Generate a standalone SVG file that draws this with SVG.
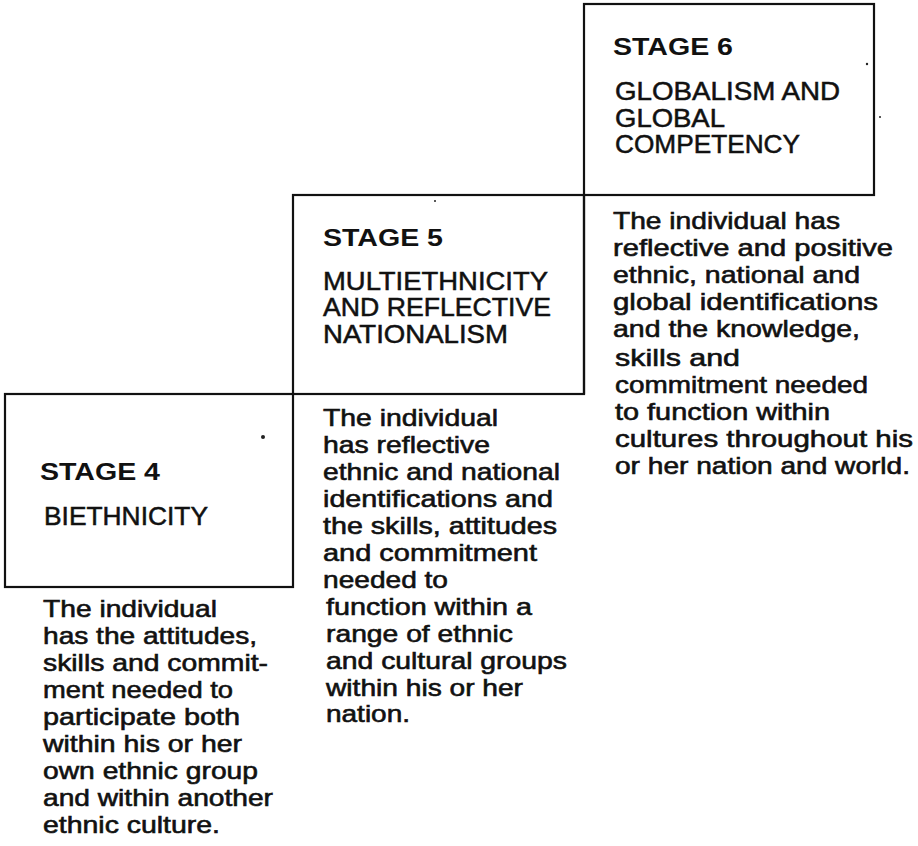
<svg xmlns="http://www.w3.org/2000/svg" width="918" height="846" viewBox="0 0 918 846">
<style>
.box{fill:none;stroke:#111;stroke-width:2.2}
.st{font-family:"Liberation Sans",Arial,sans-serif;font-weight:bold;font-size:23.5px;fill:#111}
.sub{font-family:"Liberation Sans",Arial,sans-serif;font-size:25px;fill:#111;stroke:#111;stroke-width:0.5}
.body{font-family:"Liberation Sans",Arial,sans-serif;font-size:24px;fill:#111;stroke:#111;stroke-width:0.6}
</style>
<rect width="918" height="846" fill="#fff"/>
<g id="stage4">
<rect class="box" x="5" y="394" width="288" height="193"/>
<text class="st" x="40" y="480" textLength="120" lengthAdjust="spacingAndGlyphs">STAGE  4</text>
<text class="sub" x="44" y="525" textLength="164" lengthAdjust="spacingAndGlyphs">BIETHNICITY</text>
<g class="body">
<text x="43" y="617" textLength="174" lengthAdjust="spacingAndGlyphs">The individual</text>
<text x="43" y="644" textLength="214" lengthAdjust="spacingAndGlyphs">has the attitudes,</text>
<text x="43" y="671" textLength="225" lengthAdjust="spacingAndGlyphs">skills and commit-</text>
<text x="43" y="698" textLength="190" lengthAdjust="spacingAndGlyphs">ment needed to</text>
<text x="43" y="725" textLength="197" lengthAdjust="spacingAndGlyphs">participate both</text>
<text x="43" y="752" textLength="199" lengthAdjust="spacingAndGlyphs">within his or her</text>
<text x="43" y="779" textLength="215" lengthAdjust="spacingAndGlyphs">own ethnic group</text>
<text x="43" y="806" textLength="230" lengthAdjust="spacingAndGlyphs">and within another</text>
<text x="43" y="833" textLength="177" lengthAdjust="spacingAndGlyphs">ethnic culture.</text>
</g>
</g>
<g id="stage5">
<rect class="box" x="293" y="195" width="291" height="199"/>
<text class="st" x="323" y="246" textLength="120" lengthAdjust="spacingAndGlyphs">STAGE  5</text>
<text class="sub" x="323" y="290" textLength="225" lengthAdjust="spacingAndGlyphs">MULTIETHNICITY</text>
<text class="sub" x="323" y="316" textLength="228" lengthAdjust="spacingAndGlyphs">AND REFLECTIVE</text>
<text class="sub" x="323" y="343" textLength="185" lengthAdjust="spacingAndGlyphs">NATIONALISM</text>
<g class="body">
<text x="323" y="426" textLength="175" lengthAdjust="spacingAndGlyphs">The individual</text>
<text x="323" y="453" textLength="167" lengthAdjust="spacingAndGlyphs">has reflective</text>
<text x="323" y="480" textLength="237" lengthAdjust="spacingAndGlyphs">ethnic and national</text>
<text x="323" y="507" textLength="230" lengthAdjust="spacingAndGlyphs">identifications and</text>
<text x="323" y="534" textLength="234" lengthAdjust="spacingAndGlyphs">the skills, attitudes</text>
<text x="323" y="561" textLength="214" lengthAdjust="spacingAndGlyphs">and  commitment</text>
<text x="323" y="588" textLength="125" lengthAdjust="spacingAndGlyphs">needed to</text>
<text x="326" y="615" textLength="206" lengthAdjust="spacingAndGlyphs">function within a</text>
<text x="326" y="642" textLength="187" lengthAdjust="spacingAndGlyphs">range of ethnic</text>
<text x="326" y="669" textLength="241" lengthAdjust="spacingAndGlyphs">and cultural groups</text>
<text x="326" y="696" textLength="197" lengthAdjust="spacingAndGlyphs">within his or her</text>
<text x="326" y="722" textLength="84" lengthAdjust="spacingAndGlyphs">nation.</text>
</g>
</g>
<g id="stage6">
<rect class="box" x="584" y="4" width="290" height="191"/>
<line class="box" x1="584" y1="195" x2="584" y2="394"/>
<text class="st" x="613" y="55" textLength="120" lengthAdjust="spacingAndGlyphs">STAGE  6</text>
<text class="sub" x="615" y="100" textLength="225" lengthAdjust="spacingAndGlyphs">GLOBALISM AND</text>
<text class="sub" x="615" y="127" textLength="110" lengthAdjust="spacingAndGlyphs">GLOBAL</text>
<text class="sub" x="615" y="153" textLength="185" lengthAdjust="spacingAndGlyphs">COMPETENCY</text>
<g class="body">
<text x="613" y="229" textLength="227" lengthAdjust="spacingAndGlyphs">The individual has</text>
<text x="613" y="256" textLength="280" lengthAdjust="spacingAndGlyphs">reflective and positive</text>
<text x="613" y="283" textLength="247" lengthAdjust="spacingAndGlyphs">ethnic, national and</text>
<text x="613" y="310" textLength="265" lengthAdjust="spacingAndGlyphs">global identifications</text>
<text x="613" y="337" textLength="247" lengthAdjust="spacingAndGlyphs">and the knowledge,</text>
<text x="615" y="366" textLength="125" lengthAdjust="spacingAndGlyphs">skills  and</text>
<text x="615" y="393" textLength="253" lengthAdjust="spacingAndGlyphs">commitment needed</text>
<text x="615" y="420" textLength="215" lengthAdjust="spacingAndGlyphs">to function within</text>
<text x="615" y="447" textLength="298" lengthAdjust="spacingAndGlyphs">cultures throughout his</text>
<text x="615" y="474" textLength="295" lengthAdjust="spacingAndGlyphs">or her nation and world.</text>
</g>
</g>
<g id="connectors"></g>
<g id="specks" fill="#222">
<circle cx="263" cy="437" r="2"/>
<circle cx="867" cy="64" r="1.2"/>
<circle cx="880" cy="117" r="1"/>
<circle cx="435" cy="201" r="1"/>
</g>
</svg>
